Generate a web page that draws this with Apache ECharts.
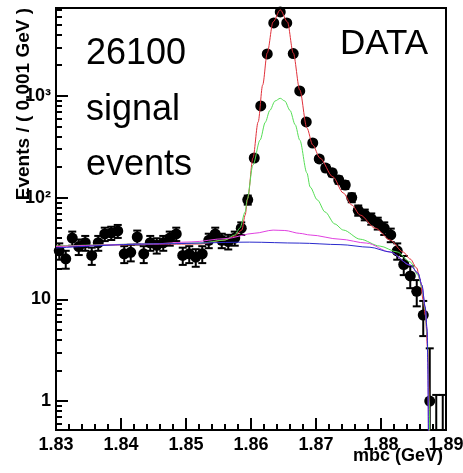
<!DOCTYPE html>
<html>
<head>
<meta charset="utf-8">
<script src="https://cdn.jsdelivr.net/npm/echarts@6/dist/echarts.min.js"></script>
<style>
  html, body { margin: 0; padding: 0; background: #fff; }
  #chart { width: 463px; height: 473px; }
</style>
</head>
<body>
<div id="chart"></div>
<script>
const FONT = "'Liberation Sans', Arial, Helvetica, sans-serif";

// histogram binning: 60 bins of 0.001 GeV from 1.83
const BIN_LO = 1.83;
const BIN_W = 0.001;
const counts = [
  30, 25, 40, 33, 36, 27, 36, 44, 45, 47,
  28, 29, 41, 28, 36, 34, 36, 40, 44, 27,
  28, 26, 28, 38, 44, 38, 37, 40, 50, 95,
  245, 796, 2580, 5210, 6680, 5210, 2600, 1117, 554, 344,
  240, 195, 175, 149, 133, 100, 75, 68, 62, 56,
  50, 43, 30, 22, 17, 12, 7, 1, 0, 0
];

// fit curves: [mbc, events]
const totalFit = [
  [1.8300, 33.4], [1.8522, 35.0], [1.8560, 38.3], [1.8575, 41.9], [1.8586, 48.0],
  [1.8591, 67.4], [1.8595, 99], [1.8603, 245], [1.8611, 554], [1.8618, 1280],
  [1.8625, 2640], [1.8634, 5330], [1.8645, 7000], [1.8656, 5330], [1.8665, 2640],
  [1.8675, 1143], [1.8686, 483], [1.8695, 329], [1.8706, 245], [1.8726, 160],
  [1.8742, 111], [1.8755, 84.6], [1.8768, 67.4], [1.8791, 50.2], [1.8814, 38.3],
  [1.8834, 29.2], [1.8845, 24.9], [1.8855, 20.3], [1.8860, 15.5], [1.8865, 9.8],
  [1.8868, 7.0], [1.8872, 3.2], [1.8875, 0.4]
];
const signalFit = [
  [1.8300, 33.4], [1.8522, 35.7], [1.8560, 38.3], [1.8575, 42.9], [1.8583, 50.2],
  [1.8591, 72.2], [1.8594, 95], [1.8603, 209], [1.8614, 368], [1.8622, 550],
  [1.8629, 720], [1.8637, 890], [1.8645, 946], [1.8652, 890], [1.8660, 720],
  [1.8668, 520], [1.8675, 368], [1.8686, 175], [1.8691, 127], [1.8702, 95],
  [1.8714, 72.2], [1.8729, 55], [1.8742, 48.0], [1.8768, 39], [1.8798, 33.4],
  [1.8825, 29.2], [1.8845, 23.3], [1.8857, 17.3], [1.8863, 13.2], [1.8868, 7.9],
  [1.8871, 4.5], [1.8874, 1.0], [1.8875, 0.4]
];
const peakingFit = [
  [1.8300, 33.0], [1.8445, 35.0], [1.8509, 36.7], [1.8560, 39.5], [1.8606, 44.7],
  [1.8634, 47.9], [1.8652, 47.5], [1.8675, 44.5], [1.8691, 42.9], [1.8737, 39.0],
  [1.8778, 35.7], [1.8814, 29.2], [1.8845, 21.7], [1.8857, 18.1], [1.8863, 13.8],
  [1.8868, 8.4], [1.8871, 5.0], [1.8872, 2.4], [1.8873, 0.4]
];
const argusFit = [
  [1.8300, 32.0], [1.8445, 35.0], [1.8598, 36.5], [1.8675, 35.7], [1.8737, 34.5],
  [1.8783, 32.5], [1.8814, 29.2], [1.8845, 21.7], [1.8857, 18.1], [1.8863, 13.8],
  [1.8868, 8.4], [1.8871, 5.0], [1.8872, 2.4], [1.8873, 0.4]
];

const X_MIN = 1.83, X_MAX = 1.89;
const Y_MIN = 0.52, Y_MAX = 7300;
const yMajor = [1, 10, 100, 1000];
const yMinor = [
  0.6, 0.7, 0.8, 0.9, 2, 3, 4, 5, 6, 7, 8, 9,
  20, 30, 40, 50, 60, 70, 80, 90, 200, 300, 400, 500, 600, 700, 800, 900,
  2000, 3000, 4000, 5000, 6000, 7000
];
const yLabels = { 0: '1', 1: '10', 2: '10²', 3: '10³' };
// poisson upper edges for the tiny bins
const POISSON_HI = { 0: 1.15, 1: 3.3 };

const points = counts.map((n, i) => {
  const x = BIN_LO + BIN_W * (i + 0.5);
  const err = Math.sqrt(n);
  const hi = n in POISSON_HI ? POISSON_HI[n] : n + err;
  const lo = n - err;
  return [x, n, lo > Y_MIN ? lo : Y_MIN, hi];
});

function renderPoint(params, api) {
  const x = api.value(0);
  const n = api.value(1);
  const lo = api.value(2);
  const hi = api.value(3);
  const top = api.coord([x, hi]);
  const bot = api.coord([x, lo]);
  const style = { stroke: '#000', lineWidth: 2 };
  const kids = [
    { type: 'line', shape: { x1: top[0], y1: top[1], x2: bot[0], y2: bot[1] }, style },
    { type: 'line', shape: { x1: top[0] - 4, y1: top[1], x2: top[0] + 4, y2: top[1] }, style }
  ];
  if (lo > Y_MIN) {
    kids.push({ type: 'line', shape: { x1: bot[0] - 4, y1: bot[1], x2: bot[0] + 4, y2: bot[1] }, style });
  }
  if (n > 0) {
    const c = api.coord([x, n]);
    kids.push({ type: 'circle', shape: { cx: c[0], cy: c[1], r: 5.5 }, style: { fill: '#000' } });
  }
  return { type: 'group', children: kids };
}

function fitLine(name, data, color) {
  return {
    name,
    type: 'line',
    data,
    symbol: 'none',
    smooth: 0.3,
    smoothMonotone: 'x',
    clip: true,
    lineStyle: { color, width: 1 },
    z: 3
  };
}

const chart = echarts.init(document.getElementById('chart'), null, { renderer: 'canvas' });

chart.setOption({
  backgroundColor: '#fff',
  animation: false,
  grid: {
    left: 56, right: 17, top: 8, bottom: 43,
    outerBoundsMode: 'none',
    show: true, borderColor: '#000', borderWidth: 2, backgroundColor: 'transparent'
  },
  xAxis: {
    type: 'value',
    min: X_MIN,
    max: X_MAX,
    interval: 0.01,
    axisLine: { lineStyle: { color: '#000', width: 2 } },
    axisTick: { inside: true, length: 12, lineStyle: { color: '#000', width: 2 } },
    minorTick: { show: true, splitNumber: 5, length: 6, lineStyle: { color: '#000', width: 2 } },
    axisLabel: {
      color: '#000', fontFamily: FONT, fontWeight: 'bold', fontSize: 18, margin: 6,
      formatter: (v) => v.toFixed(2)
    },
    splitLine: { show: false }
  },
  yAxis: [
    {
      type: 'log',
      logBase: 10,
      position: 'left',
      min: Y_MIN,
      max: Y_MAX,
      axisLine: { show: true, lineStyle: { color: '#000', width: 2 } },
      axisTick: { inside: true, length: 12, customValues: yMajor, lineStyle: { color: '#000', width: 2 } },
      axisLabel: {
        customValues: yMajor,
        color: '#000', fontFamily: FONT, fontWeight: 'bold', fontSize: 18, margin: 5,
        formatter: (v) => yLabels[Math.round(Math.log10(v))]
      },
      splitLine: { show: false }
    },
    {
      type: 'log',
      logBase: 10,
      position: 'left',
      min: Y_MIN,
      max: Y_MAX,
      axisLine: { show: false },
      axisTick: { inside: true, length: 6, customValues: yMinor, lineStyle: { color: '#000', width: 2 } },
      axisLabel: { show: false },
      splitLine: { show: false }
    }
  ],
  graphic: [
    {
      type: 'text', x: 24, y: 8, rotation: Math.PI / 2,
      style: {
        text: 'Events / ( 0.001 GeV )', fill: '#000', font: `bold 19px ${FONT}`,
        align: 'right', verticalAlign: 'middle'
      }
    },
    {
      type: 'text', x: 443, y: 456,
      style: { text: 'mbc (GeV)', fill: '#000', font: `bold 18px ${FONT}`, align: 'right', verticalAlign: 'middle' }
    },
    {
      type: 'text', x: 86, y: 72,
      style: { text: '26100', fill: '#000', font: `36px ${FONT}`, align: 'left', verticalAlign: 'bottom' }
    },
    {
      type: 'text', x: 86, y: 128,
      style: { text: 'signal', fill: '#000', font: `36px ${FONT}`, align: 'left', verticalAlign: 'bottom' }
    },
    {
      type: 'text', x: 86, y: 183,
      style: { text: 'events', fill: '#000', font: `36px ${FONT}`, align: 'left', verticalAlign: 'bottom' }
    },
    {
      type: 'text', x: 340, y: 62,
      style: { text: 'DATA', fill: '#000', font: `35px ${FONT}`, align: 'left', verticalAlign: 'bottom' }
    }
  ],
  series: [
    {
      name: 'data',
      type: 'custom',
      data: points,
      renderItem: renderPoint,
      clip: false,
      z: 2
    },
    fitLine('total', totalFit, '#e0303a'),
    fitLine('signal', signalFit, '#55dd55'),
    fitLine('peaking', peakingFit, '#e040e0'),
    fitLine('argus', argusFit, '#2a2acc')
  ]
});
</script>
</body>
</html>
